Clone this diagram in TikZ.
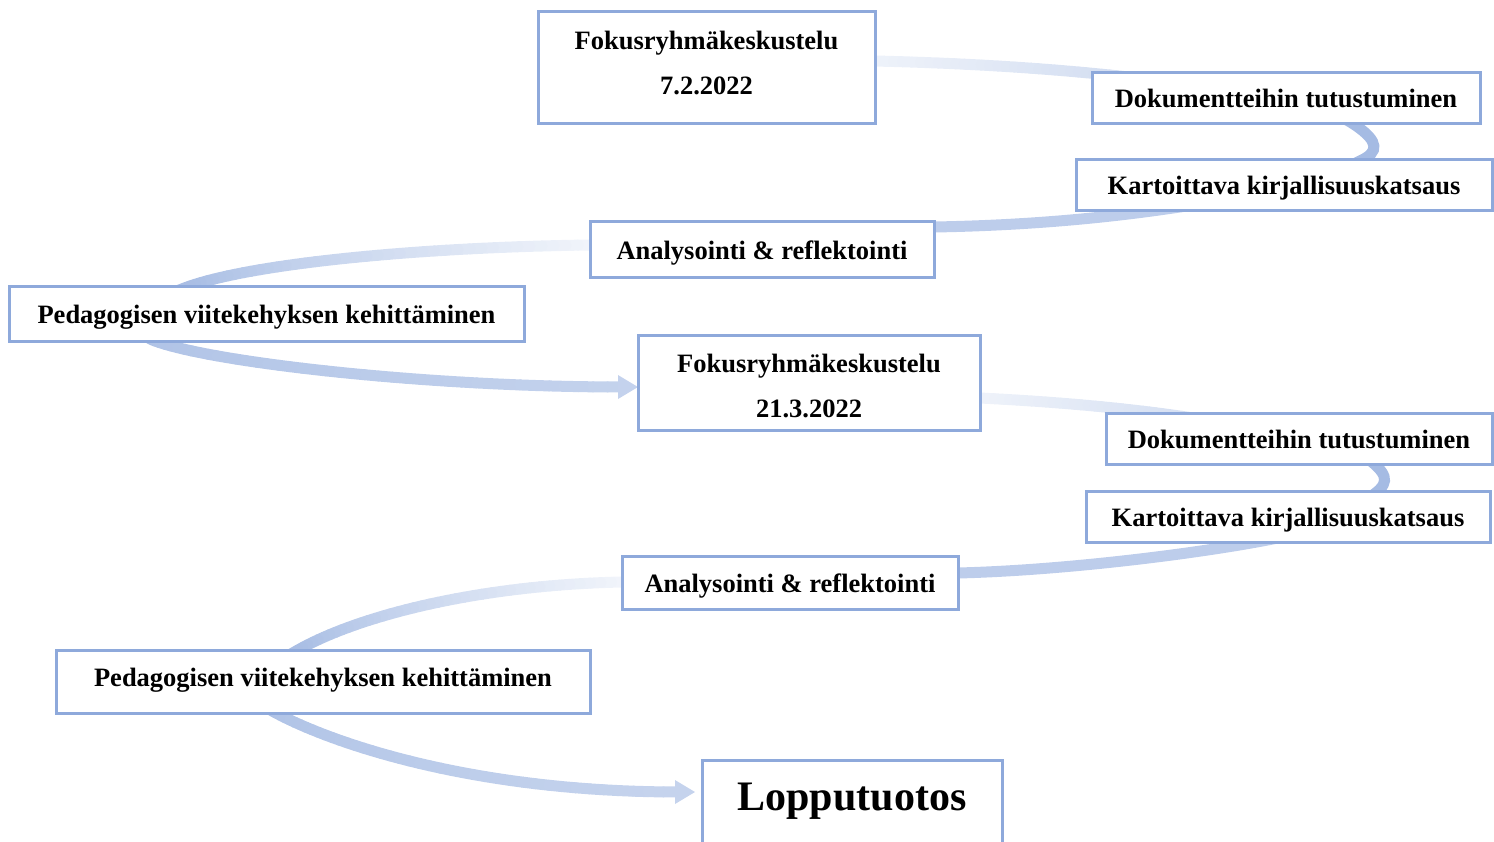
\documentclass[tikz,border=0pt]{standalone}
\usepackage{fontspec}
\setmainfont{Liberation Serif}
\definecolor{boxline}{HTML}{8EA9DB}
\definecolor{band}{HTML}{A5BBE3}

% A thick curved band whose tint changes along its length:
% #1 name prefix, #2 start, #3/#4 control points, #5 end, #6/#7 tint at start/end (percent)
\newcommand\gradband[7]{%
  \foreach \k [evaluate=\k as \tpos using \k/40] in {0,...,40}
    {\path (#2) .. controls (#3) and (#4) .. (#5) coordinate[pos=\tpos] (#1-\k);}%
  \foreach \k [evaluate=\k as \kk using int(\k+1),
               evaluate=\k as \mix using #6+(#7-#6)*(\k+0.5)/40] in {0,...,39}
    {\draw[band line, draw=band!\mix!white] (#1-\k) -- (#1-\kk);}%
}

\begin{document}
\begin{tikzpicture}[x=1pt,y=-1pt,
  stepbox/.style={draw=boxline, line width=3pt, fill=white, inner sep=0pt,
                  font=\fontsize{26.5}{45}\selectfont\bfseries},
  oneline/.style={text height=20pt, text depth=0pt},
  band line/.style={line width=11pt, line cap=round}]
\useasboundingbox (0,0) rectangle (1494,841);

% ---------- first round ----------
\coordinate (a0) at (875,61);
\coordinate (a1) at (1200,86);
\coordinate (b1) at (1250,195);
\coordinate (c1) at (590,245);
\coordinate (d1) at (190,286);
\coordinate (e0) at (155,341);
\coordinate (e1) at (622,387);
\coordinate (tip1) at (638,387);

\gradband{gA}{a0}{1000,64}{1100,72}{a1}{18}{60}
\draw[band line, draw=band] (a1) .. controls (1290,99) and (1330,108) .. (1355,125)
   .. controls (1380,142) and (1378,152) .. (1362,160)
   .. controls (1330,176) and (1300,186) .. (b1);
\draw[band line, draw=band!73!white] (b1) .. controls (1150,214) and (1050,225) .. (934,227) -- (c1);
\gradband{gD}{c1}{430,247}{260,262}{d1}{15}{95}
\draw[band line, draw=band!95!white] (d1) .. controls (140,303) and (125,330) .. (e0);
\gradband{gE}{e0}{215,363}{430,387}{e1}{88}{66}
\fill[band!66!white] (tip1) -- ++(-20,-12) -- ++(0,24) -- cycle;

% ---------- second round ----------
\coordinate (a2) at (980,398);
\coordinate (a3) at (1250,428);
\coordinate (b3) at (1300,533);
\coordinate (c3) at (622,582);
\coordinate (d3) at (298,650);
\coordinate (e2) at (276,713);
\coordinate (e3) at (679,792);
\coordinate (tip2) at (695,792);

\gradband{gA2}{a2}{1080,403}{1170,412}{a3}{18}{55}
\draw[band line, draw=band] (a3) .. controls (1320,442) and (1360,452) .. (1372,462)
   .. controls (1390,477) and (1388,485) .. (1370,497)
   .. controls (1352,509) and (1335,524) .. (b3);
\draw[band line, draw=band!73!white] (b3) .. controls (1240,548) and (1080,570) .. (958,573) -- (c3);
\gradband{gD2}{c3}{480,585}{360,615}{d3}{15}{95}
\draw[band line, draw=band!95!white] (d3) .. controls (250,677) and (236,692) .. (e2);
\gradband{gE2}{e2}{330,742}{470,792}{e3}{88}{64}
\fill[band!64!white] (tip2) -- ++(-20,-12) -- ++(0,24) -- cycle;

% ---------- steps ----------
\node[stepbox, minimum width=337pt, minimum height=112pt] (f1) at (706.5,67)
  {\begin{tabular}{@{}c@{}}Fokusryhmäkeskustelu\\7.2.2022\\[9pt]\end{tabular}};
\node[stepbox, oneline, minimum width=388pt, minimum height=51pt] (dk1) at (1286,97.5) {Dokumentteihin tutustuminen};
\node[stepbox, oneline, minimum width=416pt, minimum height=51pt] (kk1) at (1284,184.5) {Kartoittava kirjallisuuskatsaus};
\node[stepbox, oneline, minimum width=344pt, minimum height=56pt] (an1) at (762,249) {Analysointi \& reflektointi};
\node[stepbox, oneline, minimum width=515pt, minimum height=55pt] (pv1) at (266.5,313.5) {Pedagogisen viitekehyksen kehittäminen};

\node[stepbox, minimum width=342pt, minimum height=95pt] (f2) at (809,382.5)
  {\begin{tabular}{@{}c@{}}Fokusryhmäkeskustelu\\21.3.2022\\[-6pt]\end{tabular}};
\node[stepbox, oneline, minimum width=386pt, minimum height=51pt] (dk2) at (1299,438.5) {Dokumentteihin tutustuminen};
\node[stepbox, oneline, minimum width=404pt, minimum height=51pt] (kk2) at (1288,516.5) {Kartoittava kirjallisuuskatsaus};
\node[stepbox, oneline, minimum width=336pt, minimum height=53pt] (an2) at (790,582.5) {Analysointi \& reflektointi};
\node[stepbox, oneline, text depth=10pt, minimum width=534pt, minimum height=63pt] (pv2) at (323,681.5) {Pedagogisen viitekehyksen kehittäminen};

\node[stepbox, minimum width=300pt, minimum height=102pt, font=\fontsize{42}{50}\selectfont\bfseries]
  (lt) at (852,811) {\raisebox{0pt}[32pt][34pt]{Lopputuotos}};
\end{tikzpicture}
\end{document}
